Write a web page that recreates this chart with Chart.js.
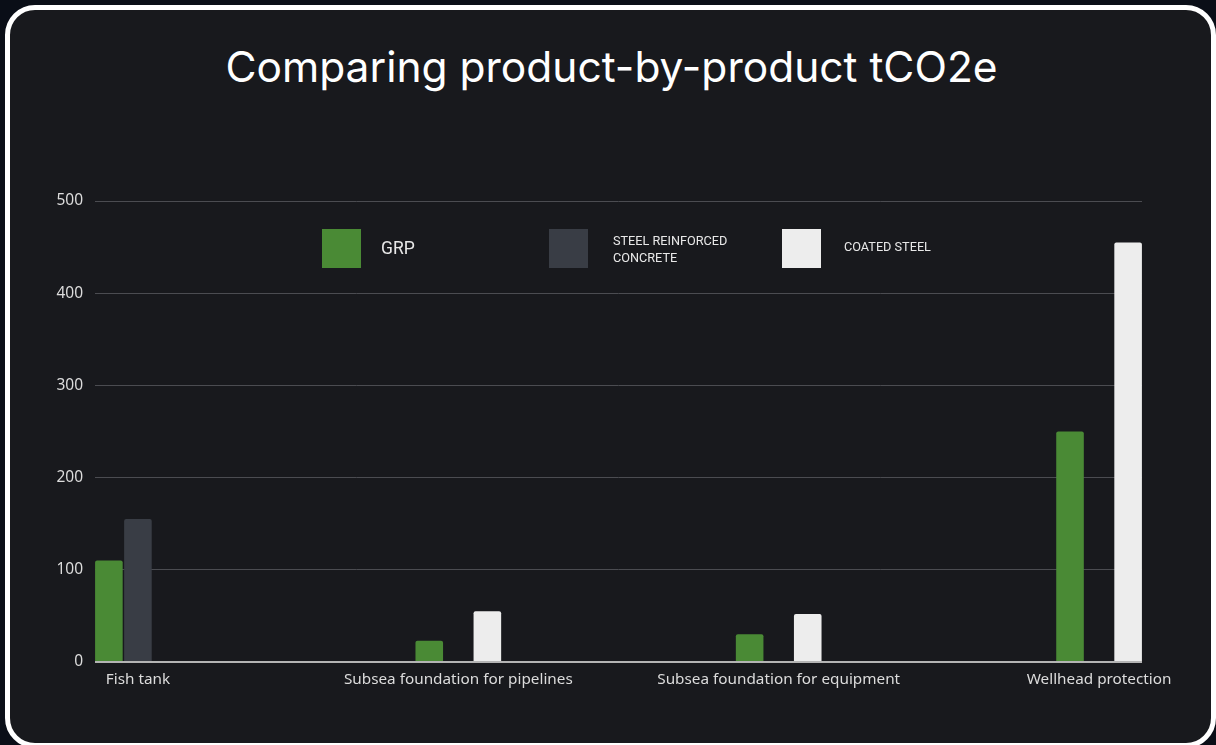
<!DOCTYPE html>
<html>
<head>
<meta charset="utf-8">
<script src="https://cdn.jsdelivr.net/npm/chart.js@4.4.1/dist/chart.umd.min.js"></script>
<style>
  html, body { margin: 0; padding: 0; }
  body { width: 1216px; height: 745px; background: #0a0e17; position: relative; overflow: hidden; }
  #frame {
    position: absolute; left: 5px; top: 5px; width: 1201px; height: 733px;
    border: 5px solid #ffffff; border-radius: 30px; background: #18191d;
  }
  #title {
    position: absolute; left: 0; top: 42px; width: 1223px; text-align: center;
    font-family: Inter, sans-serif; font-size: 42.5px; line-height: 50px; color: #ffffff;
  }
  .box { position: absolute; top: 229px; width: 39px; height: 39px; }
  .lbl { position: absolute; font-family: Roboto, sans-serif; color: #e8e8e8; }
  #chart { position: absolute; left: 0; top: 0; }
</style>
</head>
<body>
<div id="frame"></div>
<div id="title">Comparing product-by-product tCO2e</div>
<canvas id="chart" width="1216" height="745"></canvas>

<div class="box" style="left:322px;background:#4a8a35"></div>
<div class="lbl" style="left:381px;top:237px;font-size:17.5px;line-height:22px">GRP</div>
<div class="box" style="left:549px;background:#393d45"></div>
<div class="lbl" style="left:613px;top:232px;font-size:12.7px;line-height:17px">STEEL REINFORCED<br>CONCRETE</div>
<div class="box" style="left:782px;background:#ededed"></div>
<div class="lbl" style="left:844px;top:239px;font-size:12.7px;line-height:16px">COATED STEEL</div>

<script>
const categories = ["Fish tank", "Subsea foundation for pipelines", "Subsea foundation for equipment", "Wellhead protection"];
const grp = [110, 23, 30, 250];
const steelConcrete = [155, null, null, null];
const coatedSteel = [null, 55, 52, 455];
const yTicks = [0, 100, 200, 300, 400, 500];

function points(values) {
  return values.map((v, i) => ({ x: i, y: v }));
}

const ctx = document.getElementById("chart").getContext("2d");

new Chart(ctx, {
  type: "bar",
  data: {
    datasets: [
      { label: "GRP", data: points(grp), backgroundColor: "#4a8a35" },
      { label: "STEEL REINFORCED CONCRETE", data: points(steelConcrete), backgroundColor: "#393d45" },
      { label: "COATED STEEL", data: points(coatedSteel), backgroundColor: "#ededed" }
    ]
  },
  options: {
    responsive: false,
    animation: false,
    devicePixelRatio: 1,
    layout: { padding: { left: 0, right: 74, top: 201, bottom: 0 } },
    datasets: {
      bar: { categoryPercentage: 0.272, barPercentage: 0.95, borderRadius: 2, borderSkipped: "bottom" }
    },
    plugins: {
      legend: { display: false },
      tooltip: { enabled: false }
    },
    scales: {
      x: {
        type: "linear",
        offset: false,
        min: -0.134,
        max: 3.134,
        grid: { display: false },
        border: { display: false },
        ticks: {
          stepSize: 1,
          includeBounds: false,
          autoSkip: false,
          maxRotation: 0,
          padding: 0,
          color: "#dcdcdc",
          font: { family: "Noto Sans", size: 15.3 },
          callback: v => categories[v]
        },
        afterFit: s => { s.height = 83; }
      },
      y: {
        min: yTicks[0],
        max: yTicks[yTicks.length - 1],
        grid: {
          drawTicks: false,
          color: c => c.tick.value === 0 ? "#b4b4b4" : "#4b4c51",
          lineWidth: c => c.tick.value === 0 ? 2 : 1
        },
        border: { display: false },
        ticks: {
          stepSize: 100,
          padding: 12,
          color: "#dcdcdc",
          font: { family: "Noto Sans", size: 15.5 }
        },
        afterFit: s => { s.width = 95; }
      }
    }
  }
});
</script>
</body>
</html>
